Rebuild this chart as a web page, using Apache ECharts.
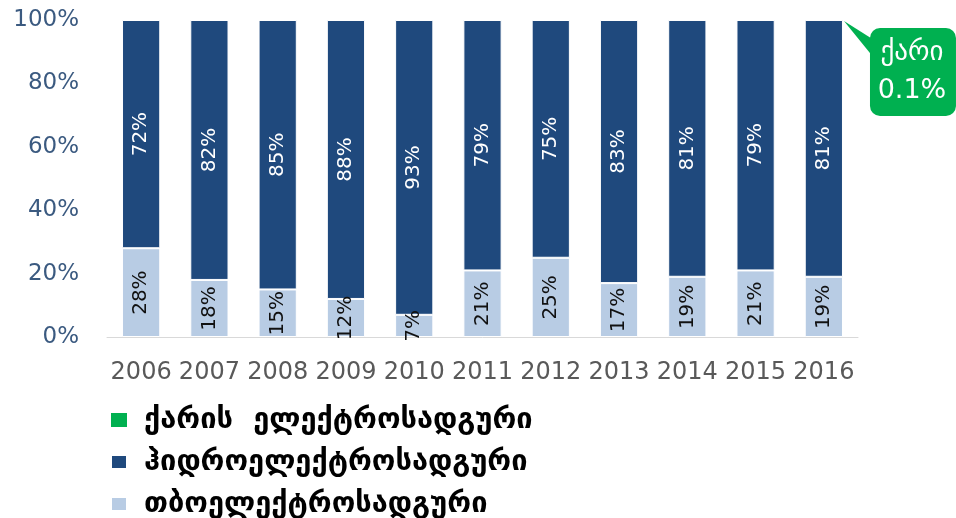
<!DOCTYPE html>
<html><head><meta charset="utf-8">
<script src="https://cdn.jsdelivr.net/npm/echarts@6/dist/echarts.min.js"></script>
<style>html,body{margin:0;padding:0;background:#fff}#c{width:956px;height:518px}</style>
</head><body><div id="c"></div>
<script>
const years = ['2006','2007','2008','2009','2010','2011','2012','2013','2014','2015','2016'];
const thermal = [28,18,15,12,7,21,25,17,19,21,19];
const hydro = [72,82,85,88,93,79,75,83,81,79,81];
const wind = [0,0,0,0,0,0,0,0,0,0,0.1];
const yTicks = [0,20,40,60,80,100];
const names = ['ქარის  ელექტროსადგური','ჰიდროელექტროსადგური','თბოელექტროსადგური'];
const calloutTitle = 'ქარი';
const calloutValue = '0.1%';

const chart = echarts.init(document.getElementById('c'));
const lbl = (color) => ({
  show: true, position: 'inside', rotate: 90, color: color,
  fontFamily: 'DejaVu Sans', fontSize: 20,
  formatter: p => p.value + '%'
});
chart.setOption({
  animation: false,
  grid: {left: 107, right: 98, top: 20, bottom: 181},
  legend: {
    orient: 'vertical', left: 110, top: 403, height: 160, padding: 0,
    data: names, icon: 'rect', itemWidth: 16, itemHeight: 14, itemGap: 8,
    textStyle: {fontFamily: 'DejaVu Sans', fontWeight: 'bold', fontSize: 29, lineHeight: 34, color: '#000', padding: [0,0,0,12]}
  },
  xAxis: {
    type: 'category', data: years,
    axisLine: {lineStyle: {color: '#d9d9d9', width: 1}},
    axisTick: {show: false},
    axisLabel: {fontFamily: 'DejaVu Sans', fontSize: 24, color: '#595959', margin: 24, interval: 0}
  },
  yAxis: {
    type: 'value', min: 0, max: 100, interval: 20,
    axisLine: {show: false}, axisTick: {show: false}, splitLine: {show: false},
    axisLabel: {fontFamily: 'DejaVu Sans', fontSize: 23, color: '#3b5a80', margin: 28,
      formatter: v => yTicks.includes(v) ? v + '%' : ''}
  },
  series: [
    {name: names[2], type: 'bar', stack: 't', data: thermal, barWidth: '56%',
     itemStyle: {color: '#b8cce4', borderColor: '#fff', borderWidth: 1}, label: lbl('#111')},
    {name: names[1], type: 'bar', stack: 't', data: hydro, barWidth: '56%',
     itemStyle: {color: '#1f497d', borderColor: '#fff', borderWidth: 1}, label: lbl('#fff')},
    {name: names[0], type: 'bar', stack: 't', data: wind, barWidth: '56%',
     itemStyle: {color: '#00b050'}}
  ]
});

// callout anchored to the top-right corner of the 2016 bar
const last = years.length - 1;
const c0 = chart.convertToPixel({gridIndex: 0}, [years[last], 100]);
const c1 = chart.convertToPixel({gridIndex: 0}, [years[last - 1], 100]);
const half = (c0[0] - c1[0]) * 0.56 / 2;
const ax = c0[0] + half + 1, ay = c0[1] + 1;
const bx = ax + 26, by = ay + 7;
chart.setOption({
  graphic: [
    {type: 'polygon', shape: {points: [[ax, ay], [bx + 4, by + 12], [bx + 4, by + 30]]},
     style: {fill: '#00b050'}, z: 100},
    {type: 'rect', shape: {x: bx, y: by, width: 86, height: 88, r: 10},
     style: {fill: '#00b050'}, z: 100},
    {type: 'text', x: bx + 42, y: by + 25, z: 101,
     style: {text: calloutTitle, fill: '#fff', fontFamily: 'DejaVu Sans', fontSize: 27, align: 'center', verticalAlign: 'middle'}},
    {type: 'text', x: bx + 42, y: by + 63, z: 101,
     style: {text: calloutValue, fill: '#fff', fontFamily: 'DejaVu Sans', fontSize: 27, align: 'center', verticalAlign: 'middle'}}
  ]
});
</script></body></html>
